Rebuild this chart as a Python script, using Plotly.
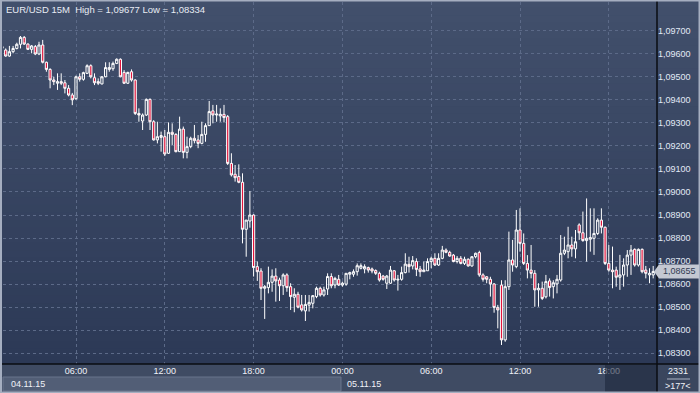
import plotly.graph_objects as go
import pandas as pd

# ---------------- data (EUR/USD, 15M, 04.11.15 01:00 -> 05.11.15 21:00) ----------------
start_time = "2015-11-04 01:00"
n_bars = 177
tick_prices = [1.083, 1.084, 1.085, 1.086, 1.087, 1.088, 1.089, 1.090,
               1.091, 1.092, 1.093, 1.094, 1.095, 1.096, 1.097]
date_labels = ["04.11.15", "05.11.15"]
title_text = "EUR/USD 15M  High = 1,09677 Low = 1,08334"
last_price = 1.08655

open_ = [1.09624,1.09616,1.09590,1.09609,1.09623,1.09641,1.09671,1.09642,1.09619,1.09631,
         1.09599,1.09638,1.09563,1.09532,1.09486,1.09472,1.09479,1.09474,1.09450,1.09421,
         1.09405,1.09500,1.09489,1.09515,1.09548,1.09496,1.09479,1.09469,1.09500,1.09532,
         1.09535,1.09558,1.09576,1.09519,1.09472,1.09522,1.09486,1.09341,1.09308,1.09334,
         1.09402,1.09305,1.09226,1.09237,1.09240,1.09168,1.09259,1.09250,1.09175,1.09273,
         1.09172,1.09197,1.09233,1.09226,1.09211,1.09250,1.09288,1.09352,1.09334,1.09330,
         1.09337,1.09327,1.09124,1.09077,1.09067,1.09042,1.08838,1.08874,1.08900,1.08676,
         1.08657,1.08582,1.08585,1.08608,1.08635,1.08618,1.08593,1.08640,1.08589,1.08543,
         1.08556,1.08510,1.08484,1.08509,1.08517,1.08546,1.08582,1.08553,1.08579,1.08633,
         1.08596,1.08621,1.08596,1.08600,1.08643,1.08643,1.08654,1.08669,1.08666,1.08672,
         1.08666,1.08659,1.08647,1.08635,1.08604,1.08604,1.08658,1.08618,1.08621,1.08650,
         1.08686,1.08679,1.08698,1.08666,1.08654,1.08658,1.08698,1.08712,1.08683,1.08712,
         1.08748,1.08738,1.08726,1.08698,1.08712,1.08690,1.08708,1.08679,1.08719,1.08737,
         1.08640,1.08632,1.08621,1.08601,1.08499,1.08596,1.08358,1.08589,1.08705,1.08676,
         1.08835,1.08777,1.08690,1.08661,1.08647,1.08575,1.08582,1.08545,1.08614,1.08589,
         1.08601,1.08618,1.08734,1.08741,1.08770,1.08753,1.08857,1.08823,1.08789,1.08795,
         1.08799,1.08820,1.08878,1.08847,1.08690,1.08661,1.08661,1.08630,1.08640,1.08683,
         1.08726,1.08751,1.08683,1.08751,1.08661,1.08640,1.08640]
high = [1.09648,1.09623,1.09634,1.09634,1.09648,1.09677,1.09677,1.09645,1.09638,1.09638,
        1.09652,1.09660,1.09566,1.09537,1.09500,1.09515,1.09515,1.09486,1.09464,1.09430,
        1.09505,1.09515,1.09522,1.09554,1.09554,1.09515,1.09493,1.09503,1.09563,1.09563,
        1.09566,1.09580,1.09580,1.09529,1.09522,1.09532,1.09489,1.09363,1.09341,1.09406,
        1.09406,1.09312,1.09305,1.09262,1.09269,1.09302,1.09298,1.09255,1.09327,1.09284,
        1.09240,1.09240,1.09291,1.09247,1.09305,1.09298,1.09395,1.09378,1.09378,1.09363,
        1.09378,1.09334,1.09168,1.09117,1.09120,1.09081,1.08878,1.09004,1.08903,1.08698,
        1.08669,1.08596,1.08676,1.08664,1.08669,1.08628,1.08647,1.08647,1.08604,1.08582,
        1.08567,1.08553,1.08553,1.08553,1.08553,1.08589,1.08589,1.08589,1.08647,1.08647,
        1.08632,1.08640,1.08611,1.08647,1.08654,1.08664,1.08690,1.08690,1.08686,1.08676,
        1.08672,1.08664,1.08654,1.08640,1.08640,1.08679,1.08661,1.08640,1.08676,1.08734,
        1.08719,1.08722,1.08712,1.08679,1.08698,1.08712,1.08719,1.08734,1.08734,1.08766,
        1.08755,1.08745,1.08731,1.08722,1.08722,1.08719,1.08712,1.08722,1.08737,1.08745,
        1.08647,1.08635,1.08632,1.08604,1.08510,1.08617,1.08617,1.08828,1.08792,1.08922,
        1.08929,1.08820,1.08726,1.08770,1.08661,1.08604,1.08611,1.08640,1.08625,1.08617,
        1.08640,1.08813,1.08806,1.08849,1.08806,1.08835,1.08864,1.08915,1.08972,1.08929,
        1.08929,1.08886,1.08929,1.08850,1.08770,1.08763,1.08676,1.08727,1.08712,1.08748,
        1.08770,1.08755,1.08755,1.08755,1.08679,1.08669,1.08679]
low = [1.09613,1.09587,1.09587,1.09602,1.09619,1.09623,1.09638,1.09616,1.09602,1.09594,
       1.09594,1.09558,1.09522,1.09450,1.09464,1.09443,1.09464,1.09428,1.09415,1.09377,
       1.09400,1.09479,1.09483,1.09512,1.09493,1.09464,1.09464,1.09467,1.09498,1.09522,
       1.09526,1.09555,1.09498,1.09469,1.09469,1.09479,1.09334,1.09305,1.09269,1.09330,
       1.09269,1.09223,1.09211,1.09175,1.09156,1.09165,1.09204,1.09172,1.09175,1.09146,
       1.09146,1.09190,1.09211,1.09190,1.09207,1.09218,1.09288,1.09298,1.09305,1.09305,
       1.09302,1.09117,1.09067,1.09045,1.09038,1.08777,1.08719,1.08845,1.08633,1.08614,
       1.08531,1.08449,1.08560,1.08567,1.08524,1.08527,1.08553,1.08567,1.08488,1.08478,
       1.08495,1.08481,1.08440,1.08481,1.08495,1.08539,1.08546,1.08546,1.08553,1.08582,
       1.08582,1.08592,1.08589,1.08593,1.08621,1.08632,1.08637,1.08664,1.08647,1.08650,
       1.08647,1.08640,1.08611,1.08615,1.08579,1.08601,1.08611,1.08572,1.08615,1.08647,
       1.08650,1.08664,1.08635,1.08632,1.08654,1.08658,1.08669,1.08679,1.08679,1.08708,
       1.08734,1.08719,1.08695,1.08690,1.08686,1.08683,1.08676,1.08676,1.08712,1.08632,
       1.08611,1.08604,1.08546,1.08476,1.08408,1.08336,1.08350,1.08575,1.08654,1.08669,
       1.08741,1.08683,1.08625,1.08625,1.08502,1.08502,1.08531,1.08538,1.08546,1.08538,
       1.08560,1.08611,1.08726,1.08712,1.08719,1.08712,1.08792,1.08784,1.08698,1.08741,
       1.08727,1.08813,1.08820,1.08683,1.08654,1.08582,1.08589,1.08575,1.08589,1.08632,
       1.08640,1.08676,1.08676,1.08647,1.08625,1.08604,1.08625]
close = [1.09631,1.09590,1.09609,1.09623,1.09641,1.09671,1.09642,1.09619,1.09634,1.09599,
         1.09638,1.09563,1.09532,1.09486,1.09479,1.09479,1.09472,1.09450,1.09421,1.09400,
         1.09500,1.09489,1.09518,1.09548,1.09500,1.09474,1.09472,1.09500,1.09540,1.09540,
         1.09558,1.09576,1.09500,1.09472,1.09519,1.09486,1.09341,1.09334,1.09334,1.09402,
         1.09305,1.09226,1.09240,1.09245,1.09165,1.09259,1.09250,1.09175,1.09273,1.09172,
         1.09197,1.09233,1.09223,1.09211,1.09250,1.09288,1.09349,1.09334,1.09338,1.09337,
         1.09323,1.09124,1.09074,1.09062,1.09042,1.08838,1.08878,1.08900,1.08672,1.08654,
         1.08582,1.08589,1.08608,1.08635,1.08614,1.08593,1.08640,1.08585,1.08546,1.08556,
         1.08500,1.08488,1.08512,1.08521,1.08550,1.08582,1.08553,1.08575,1.08633,1.08593,
         1.08625,1.08596,1.08604,1.08647,1.08650,1.08654,1.08680,1.08680,1.08676,1.08661,
         1.08657,1.08647,1.08618,1.08621,1.08635,1.08661,1.08618,1.08621,1.08650,1.08687,
         1.08676,1.08702,1.08664,1.08654,1.08661,1.08698,1.08712,1.08683,1.08712,1.08748,
         1.08738,1.08722,1.08698,1.08712,1.08690,1.08708,1.08679,1.08719,1.08734,1.08640,
         1.08621,1.08621,1.08601,1.08499,1.08488,1.08358,1.08589,1.08705,1.08683,1.08835,
         1.08777,1.08690,1.08661,1.08647,1.08575,1.08582,1.08538,1.08611,1.08585,1.08606,
         1.08621,1.08734,1.08748,1.08770,1.08753,1.08784,1.08823,1.08789,1.08799,1.08802,
         1.08820,1.08878,1.08847,1.08690,1.08661,1.08654,1.08630,1.08640,1.08683,1.08726,
         1.08748,1.08683,1.08751,1.08654,1.08647,1.08647,1.08655]

times = pd.date_range(start_time, periods=n_bars, freq="15min")

# ---------------- layout geometry (pixels) ----------------
W, H = 700, 393
L, R, T, B = 3, 657, 2, 364


def px_x(x):
    return (x - L) / (R - L)


def px_y(y):
    return (B - y) / (B - T)


def mix(c1, c2, f):
    return "rgb(%d,%d,%d)" % tuple(round(a + (b - a) * f) for a, b in zip(c1, c2))


shapes = []
# vertical gradient background (plot + price scale)
top_c, bot_c = (66, 80, 108), (44, 57, 86)
nb = 48
for k in range(nb):
    y0 = B * k / nb
    y1 = B * (k + 1) / nb + 0.6
    shapes.append(dict(type="rect", xref="paper", yref="paper", layer="below",
                       x0=px_x(0), x1=px_x(W), y0=px_y(y1), y1=px_y(y0),
                       line=dict(width=0), fillcolor=mix(top_c, bot_c, (k + 0.5) / nb)))
# bottom time strip
shapes.append(dict(type="rect", xref="paper", yref="paper", layer="below",
                   x0=px_x(0), x1=px_x(W), y0=px_y(H), y1=px_y(B),
                   line=dict(width=0), fillcolor="rgb(63,75,99)"))
# date row box (first day)
shapes.append(dict(type="rect", xref="paper", yref="paper", layer="below",
                   x0=px_x(3), x1=px_x(341), y0=px_y(391), y1=px_y(377),
                   line=dict(width=1, color="rgb(104,116,140)"), fillcolor="rgb(82,94,118)"))
# corner box
shapes.append(dict(type="rect", xref="paper", yref="paper", layer="below",
                   x0=px_x(R), x1=px_x(W), y0=px_y(H), y1=px_y(B),
                   line=dict(width=0), fillcolor="rgb(58,70,94)"))
shapes.append(dict(type="line", xref="paper", yref="paper", layer="above",
                   x0=px_x(667), x1=px_x(690), y0=px_y(379), y1=px_y(379),
                   line=dict(width=1, color="rgb(170,178,195)")))
# dark overlay at the right end of the time strip
shapes.append(dict(type="rect", xref="paper", yref="paper", layer="above",
                   x0=px_x(605), x1=px_x(R), y0=px_y(392), y1=px_y(B + 1),
                   line=dict(width=0), fillcolor="rgba(28,38,60,0.6)"))
# black separators
shapes.append(dict(type="line", xref="paper", yref="paper", layer="above",
                   x0=px_x(R), x1=px_x(R), y0=px_y(H), y1=px_y(0),
                   line=dict(width=1.5, color="rgb(10,12,18)")))
shapes.append(dict(type="line", xref="paper", yref="paper", layer="above",
                   x0=px_x(0), x1=px_x(W), y0=px_y(B), y1=px_y(B),
                   line=dict(width=1.5, color="rgb(10,12,18)")))
# outer frame
shapes.append(dict(type="rect", xref="paper", yref="paper", layer="above",
                   x0=px_x(1), x1=px_x(W - 0.5), y0=px_y(H - 0.5), y1=px_y(0.5),
                   line=dict(width=2, color="rgb(165,174,192)"), fillcolor="rgba(0,0,0,0)"))

# last price marker (arrow box on the price scale)
y_lp = B - (last_price - 1.082534) / (1.098246 - 1.082534) * (B - T)
shapes.append(dict(type="path", xref="paper", yref="paper", layer="above",
                   path="M %f,%f L %f,%f L %f,%f L %f,%f L %f,%f Z" % (
                       px_x(654), px_y(y_lp), px_x(659), px_y(y_lp - 7),
                       px_x(699), px_y(y_lp - 7), px_x(699), px_y(y_lp + 7),
                       px_x(659), px_y(y_lp + 7)),
                   line=dict(width=0), fillcolor="rgb(196,200,210)"))

fnt = "Liberation Sans, Arial, sans-serif"
annotations = [
    dict(text=title_text, xref="paper", yref="paper", x=px_x(4), y=px_y(9),
         xanchor="left", yanchor="middle", showarrow=False,
         font=dict(family=fnt, size=9.5, color="rgb(232,236,244)")),
    dict(text=date_labels[0], xref="paper", yref="paper", x=px_x(9), y=px_y(384),
         xanchor="left", yanchor="middle", showarrow=False,
         font=dict(family=fnt, size=9, color="rgb(240,242,248)")),
    dict(text=date_labels[1], xref="paper", yref="paper", x=px_x(345), y=px_y(384),
         xanchor="left", yanchor="middle", showarrow=False,
         font=dict(family=fnt, size=9, color="rgb(240,242,248)")),
    dict(text="2331", xref="paper", yref="paper", x=px_x(678), y=px_y(371),
         xanchor="center", yanchor="middle", showarrow=False,
         font=dict(family=fnt, size=9, color="rgb(240,242,248)")),
    dict(text="&gt;%d&lt;" % n_bars, xref="paper", yref="paper", x=px_x(678), y=px_y(386),
         xanchor="center", yanchor="middle", showarrow=False,
         font=dict(family=fnt, size=9, color="rgb(240,242,248)")),
    dict(text=("%.5f" % last_price).replace(".", ","), xref="paper", yref="y",
         x=px_x(679), y=last_price, xanchor="center", yanchor="middle", showarrow=False,
         font=dict(family=fnt, size=9, color="rgb(50,60,82)")),
]

fig = go.Figure(go.Candlestick(
    x=times, open=open_, high=high, low=low, close=close,
    increasing=dict(line=dict(color="white", width=1), fillcolor="rgba(0,0,0,0)"),
    decreasing=dict(line=dict(color="white", width=1), fillcolor="rgb(226,20,60)"),
    whiskerwidth=0, hoverinfo="skip", showlegend=False,
))

t0 = pd.Timestamp(start_time)
step = pd.Timedelta(minutes=15)
x_left = t0 + step * ((L - 2) / 3.7)
x_right = t0 + step * ((R - 2) / 3.7)

grid_c = "rgb(92,106,136)"
fig.update_layout(
    width=W, height=H,
    margin=dict(l=L, r=W - R, t=T, b=H - B, pad=0),
    paper_bgcolor="rgb(58,70,96)",
    plot_bgcolor="rgba(0,0,0,0)",
    separators=",.",
    boxgap=0.15,
    shapes=shapes,
    annotations=annotations,
    xaxis=dict(type="date", range=[x_left, x_right], rangeslider=dict(visible=False),
               tick0="2015-11-04 00:00", dtick=6 * 3600 * 1000, tickformat="%H:%M",
               showgrid=True, gridcolor=grid_c, gridwidth=1, griddash="3px,3px",
               zeroline=False, showline=False, ticks="",
               tickfont=dict(family=fnt, size=9, color="rgb(240,242,248)")),
    yaxis=dict(side="right", range=[1.082534, 1.098246], tickvals=tick_prices,
               tickformat=".5f", showgrid=True, gridcolor=grid_c, gridwidth=1,
               griddash="3px,3px", zeroline=False, showline=False, ticks="",
               tickfont=dict(family=fnt, size=9, color="rgb(226,234,246)")),
)

fig.write_html("out.html")
